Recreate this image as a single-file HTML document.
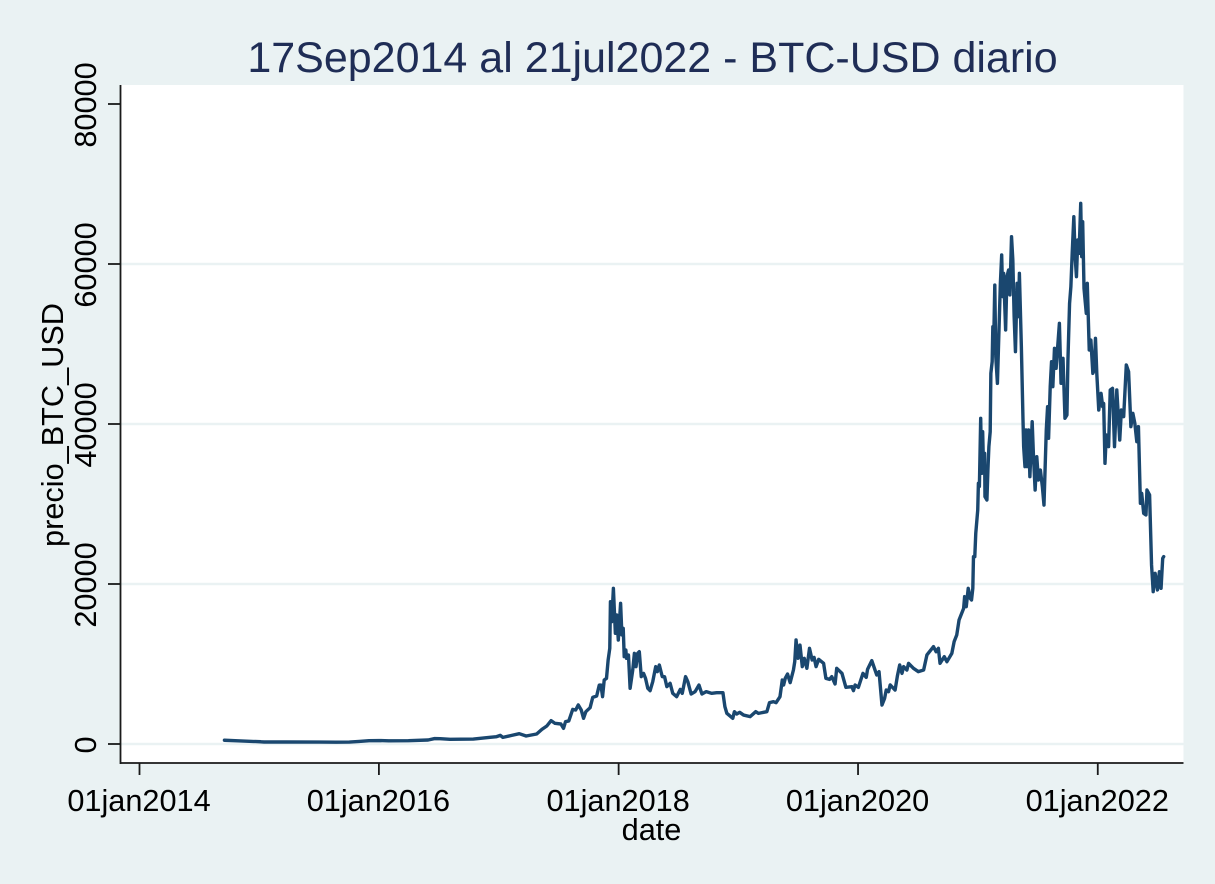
<!DOCTYPE html>
<html lang="es">
<head>
<meta charset="utf-8">
<title>BTC-USD diario</title>
<style>
html,body{margin:0;padding:0;background:#eaf2f3;}
svg{display:block;font-family:"Liberation Sans",Arial,sans-serif;}
</style>
</head>
<body>
<svg id="chart" xmlns="http://www.w3.org/2000/svg" width="1215" height="884" viewBox="0 0 1215 884">
<rect x="0" y="0" width="1215" height="884" fill="#eaf2f3"/>
<rect x="121" y="85" width="1062.5" height="678" fill="#ffffff"/>
<g id="grid"></g>
<g id="series"></g>
<g id="axes"></g>
<text x="652.5" y="72" text-anchor="middle" font-size="43" fill="#1f2d56">17Sep2014 al 21jul2022 - BTC-USD diario</text>
<text transform="translate(63,425) rotate(-90)" text-anchor="middle" font-size="30.7" fill="#000">precio_BTC_USD</text>
<text x="651.5" y="840" text-anchor="middle" font-size="30.7" fill="#000">date</text>
</svg>
<script>
const days = [
259,300,370,380,450,550,600,640,670,700,
730,760,820,880,900,917,947,1018,1069,1089,
1100,1108,1135,1158,1179,1211,1227,1242,1255,1267,
1285,1293,1299,1309,1321,1330,1338,1347,1354,1361,
1374,1382,1394,
1402,1407,1412,1417,1424,1429,1434,1436,1440,1445,
1451,1455,1460,1467,1471,1475,1478,1483,1485,1491,
1496,1504,1509,1514,1519,1524,1530,1537,1543,1550,
1557,1565,1574,1579,1585,1594,1601,1608,1618,1626,
1638,1649,1655,1665,1672,1682,1694,1706,1715,1728,
1745,1760,1779,1785,1791,1809,1814,1821,1830,1842,
1862,1879,1887,1913,1921,1933,1941,1953,1960,1964,
1969,1976,1984,1994,1998,2002,2008,2014,2021,2027,
2035,2043,2051,2057,2063,2071,2086,2093,2104,2111,
2121,2126,2142,2154,2172,2177,2182,2192,2206,2216,
2220,2233,2248,2255,2264,2272,2277,2284,2289,2304,
2311,2318,2325,2330,2340,2345,2360,2375,2391,2401,
2421,2429,2436,2441,2454,2462,2477,2484,2492,2499,
2513,2516,2521,2527,2533,2537,2541,2543,2547,2550,
2556,2558,2561,2565,2568,2571,2574,2577,2578,2584,
2587,2590,2594,2596,2600,2602,2604,2608,2611,2616,
2619,2625,2629,2632,2635,2641,2645,2650,2654,2659,
2663,2667,2671,2676,2680,2683,2689,2694,2696,2700,
2703,2706,2711,2715,2722,2726,2731,2736,2741,2747,
2753,2758,2765,2769,2772,2777,2781,2785,2790,2795,
2799,2805,2810,2816,2822,2828,2831,2836,2840,2844,
2849,2853,2857,2861,2865,2870,2873,2876,2880,2887,
2890,2896,2901,2907,2911,2915,2919,2925,2932,2937,
2940,2944,2948,2955,2960,2967,2973,2980,2989,2994,
3001,3009,3016,3023,3029,3035,3041,3046,3052,3056,
3062,3069,3072,3080,3086,3091,3097,3104,3110,3115,
3120,3123
];
const prices = [
470,400,280,250,250,240,230,240,320,420,
430,400,420,500,680,670,580,620,830,920,
1080,830,1080,1290,1000,1250,1830,2250,2920,2580,
2500,1960,2790,2880,4330,4250,4880,4250,3210,4040,
4540,5830,6000,
7370,7370,5920,8000,8210,10500,11960,17790,15290,19460,
13830,16130,13000,17580,13630,14460,10920,11750,10710,11125,
6960,9250,11330,9670,11330,11540,8420,8830,8210,6960,
6670,7790,9670,9040,9880,8420,8420,7170,7580,6330,
5920,6830,6330,8420,7790,6250,6540,7370,6250,6540,
6330,6420,6420,4670,3830,3210,4040,3750,3960,3620,
3420,4040,3830,4040,5170,5290,5170,5920,8000,7370,
8210,8750,7670,9250,10290,13000,10710,12370,9670,10710,
9460,11960,10500,10830,9670,10580,10080,8210,8080,8420,
7500,9460,8830,7080,7170,6670,7380,7080,8830,8330,
9330,10420,8630,9040,4870,5710,6750,6540,7380,6750,
8500,9880,8830,9670,9250,10080,9460,9040,9250,11130,
12170,11540,11960,10080,10920,10290,11330,12790,13630,15500,
16960,18420,17170,19460,18210,18000,19460,23420,23420,26330,
29250,32580,32170,40710,33830,39040,33830,36330,30920,30500,
34250,37170,39040,46330,47790,52170,48830,57370,48420,45080,
49250,57580,61130,55920,58830,51750,58420,59250,56130,63420,
60500,53420,49040,57580,53420,58830,49670,40500,37170,34670,
39250,34670,39250,33420,40290,35920,31750,35920,33000,34250,
32170,29870,39250,42170,38210,44670,47790,44670,49460,46960,
49250,52580,45080,48210,40710,41130,48000,55080,57170,61330,
65920,60920,58420,63000,61330,67580,60920,65290,56960,53830,
57580,49250,50500,46330,46750,50710,46330,41750,43830,42170,
42580,35080,38630,37170,44250,44460,37170,44250,38000,41750,
40920,47380,46540,39670,41330,40080,37790,39670,30080,31330,
28830,28630,31750,31130,22380,19040,21330,19250,21540,19460,
23210,23420
];
const xTickDays = [0,730,1461,2191,2922];
const xTickLabels = ["01jan2014","01jan2016","01jan2018","01jan2020","01jan2022"];
const yTickValues = [0,20000,40000,60000,80000];
const yGridValues = [0,20000,40000,60000];

const NS = "http://www.w3.org/2000/svg";
function xScale(day){ return 139.5 + day * 0.32795; }
function yScale(value){ return 744 - value * 0.008; }
function make(tag, attrs, parent){
  const el = document.createElementNS(NS, tag);
  for (const k in attrs) el.setAttribute(k, attrs[k]);
  parent.appendChild(el);
  return el;
}
const grid = document.getElementById("grid");
const series = document.getElementById("series");
const axes = document.getElementById("axes");

yGridValues.forEach(function(v){
  const el = make("line", {x1:121, x2:1183.5, y1:yScale(v), y2:yScale(v), stroke:"#eaf2f3", "stroke-width":2.6}, grid);
  
  
});

const pts = days.map(function(d,i){ return xScale(d).toFixed(2) + "," + yScale(prices[i]).toFixed(2); }).join(" ");
const priceLine = make("polyline", {points:pts, fill:"none", stroke:"#1a476f", "stroke-width":3.4, "stroke-linejoin":"round", "stroke-linecap":"round"}, series);



const yAxisLine = make("line", {x1:120.5, x2:120.5, y1:85, y2:764, stroke:"#1a1a1a", "stroke-width":1.8}, axes);


const xAxisLine = make("line", {x1:120, x2:1183.5, y1:763, y2:763, stroke:"#1a1a1a", "stroke-width":1.8}, axes);



yTickValues.forEach(function(v){
  const y = yScale(v);
  const tick = make("line", {x1:108, x2:120, y1:y, y2:y, stroke:"#1a1a1a", "stroke-width":1.8}, axes);
  
  
  const label = make("text", {transform:"translate(96," + (y + 1) + ") rotate(-90)", "text-anchor":"middle", "font-size":30.7, fill:"#000"}, axes);
  
  
  label.textContent = String(v);
});

xTickDays.forEach(function(d,i){
  const x = xScale(d);
  const tick = make("line", {x1:x, x2:x, y1:763, y2:775, stroke:"#1a1a1a", "stroke-width":1.8}, axes);
  
  
  const label = make("text", {x:x - 0.5, y:811, "text-anchor":"middle", "font-size":30.7, fill:"#000"}, axes);
  
  
  label.textContent = xTickLabels[i];
});
</script>
</body>
</html>
